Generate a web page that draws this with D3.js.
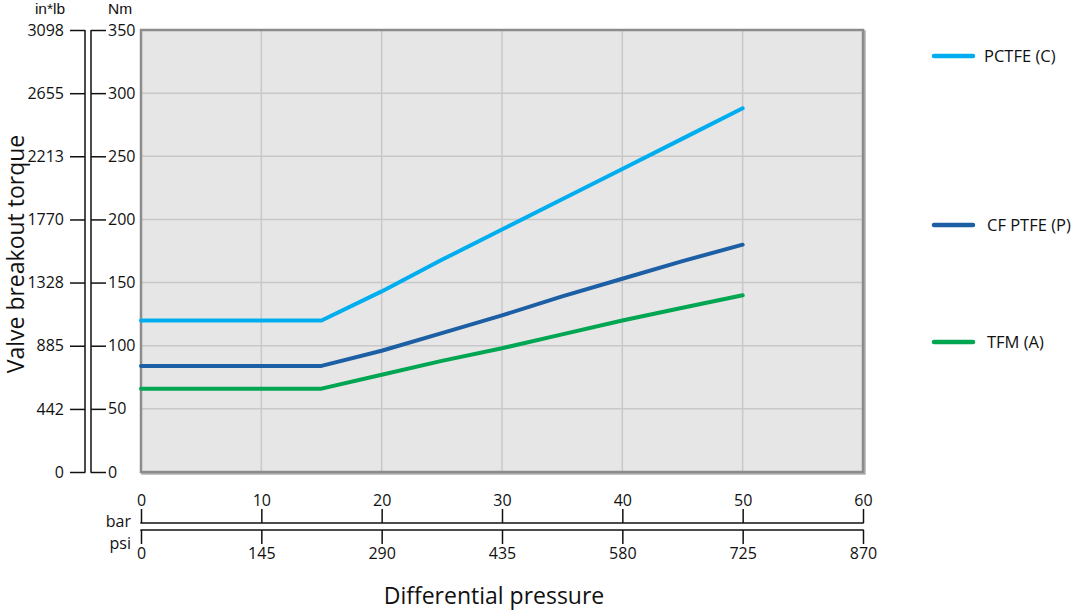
<!DOCTYPE html>
<html><head><meta charset="utf-8">
<script src="https://cdn.jsdelivr.net/npm/d3@7"></script>
<style>
body{margin:0;background:#fff;}
text{font-family:"Open Sans","Noto Sans",sans-serif;fill:#111;}
</style></head>
<body><svg id="c" width="1075" height="612"></svg>
<script>
const pressureBar = [0, 15, 20, 25, 30, 35, 40, 45, 50];
const pctfe   = [120, 120, 143, 168, 192, 216, 240, 264, 288];
const cfptfe  = [84, 84, 96, 110, 124, 139, 153, 167, 180];
const tfm     = [66, 66, 77, 88, 98, 109, 120, 130, 140];
const seriesNames = ["PCTFE (C)", "CF PTFE (P)", "TFM (A)"];
const seriesColors = ["#00aeef", "#1d5fa5", "#00a651"];
const nmTicks = [0, 50, 100, 150, 200, 250, 300, 350];
const inlbTicks = [0, 442, 885, 1328, 1770, 2213, 2655, 3098];
const barTicks = [0, 10, 20, 30, 40, 50, 60];
const psiTicks = [0, 145, 290, 435, 580, 725, 870];

const svg = d3.select("#c");
const L = 141, R = 863, T = 30, B = 472;
const x = d3.scaleLinear().domain([0, 60]).range([L, R]);
const y = d3.scaleLinear().domain([0, 350]).range([B, T]);
const yIn = d3.scaleLinear().domain([0, 3098]).range([B, T]);
const xPsi = d3.scaleLinear().domain([0, 870]).range([L, R]);
const FS = "16px";

// plot background
svg.append("rect").attr("x", L + 1.5).attr("y", T + 1.5).attr("width", R - L).attr("height", B - T)
  .attr("fill", "none").attr("stroke", "#b0b0b0").attr("stroke-width", 2.5);
svg.append("rect").attr("x", L).attr("y", T).attr("width", R - L).attr("height", B - T)
  .attr("fill", "#e6e6e6");
// grid
svg.append("g").selectAll("line").data(barTicks.slice(1, -1)).join("line")
  .attr("x1", d => x(d)).attr("x2", d => x(d)).attr("y1", T).attr("y2", B)
  .attr("stroke", "#c8c8c8").attr("stroke-width", 1.5);
svg.append("g").selectAll("line").data(nmTicks.slice(1, -1)).join("line")
  .attr("y1", d => y(d)).attr("y2", d => y(d)).attr("x1", L).attr("x2", R)
  .attr("stroke", "#c8c8c8").attr("stroke-width", 1.5);
svg.append("rect").attr("x", L).attr("y", T).attr("width", R - L).attr("height", B - T)
  .attr("fill", "none").attr("stroke", "#8c8c8c").attr("stroke-width", 2.5);

// lines
const line = d3.line().x((d, i) => x(pressureBar[i])).y(d => y(d));
[pctfe, cfptfe, tfm].forEach((s, k) => {
  svg.append("path").datum(s).attr("d", line).attr("fill", "none")
    .attr("stroke", seriesColors[k]).attr("stroke-width", 4)
    .attr("stroke-linecap", "round").attr("stroke-linejoin", "round");
});

// left axes: in*lb (ticks left) and Nm (ticks right)
const axIn = d3.axisLeft(yIn).tickValues(inlbTicks).tickSize(15).tickPadding(6).tickFormat(d3.format("d"));
const gIn = svg.append("g").attr("transform", "translate(85,0)").call(axIn);
const axNm = d3.axisRight(y).tickValues(nmTicks).tickSize(15).tickPadding(2).tickFormat(d3.format("d"));
const gNm = svg.append("g").attr("transform", "translate(91,0)").call(axNm);
[gIn, gNm].forEach(g => {
  g.select(".domain").remove();
  g.selectAll("line").attr("stroke", "#111").attr("stroke-width", 1.5);
  g.selectAll("text").style("font-size", FS).attr("fill", "#111");
});
svg.append("line").attr("x1", 85).attr("x2", 85).attr("y1", T).attr("y2", B + 0.75).attr("stroke", "#111").attr("stroke-width", 1.5);
svg.append("line").attr("x1", 91).attr("x2", 91).attr("y1", T).attr("y2", B + 0.75).attr("stroke", "#111").attr("stroke-width", 1.5);
svg.append("text").attr("x", 50).attr("y", 14).attr("text-anchor", "middle")
  .style("font-family", "'Liberation Sans',sans-serif").style("font-size", "15.5px").text("in*lb");
svg.append("text").attr("x", 120).attr("y", 14).attr("text-anchor", "middle")
  .style("font-family", "'Liberation Sans',sans-serif").style("font-size", "15.5px").text("Nm");

// bottom axes
const axBar = d3.axisTop(x).tickValues(barTicks).tickSize(14).tickPadding(3).tickFormat(d3.format("d"));
const gBar = svg.append("g").attr("transform", "translate(0,523)").call(axBar);
const axPsi = d3.axisBottom(xPsi).tickValues(psiTicks).tickSize(14).tickPadding(4).tickFormat(d3.format("d"));
const gPsi = svg.append("g").attr("transform", "translate(0,530)").call(axPsi);
[gBar, gPsi].forEach(g => {
  g.select(".domain").remove();
  g.selectAll("line").attr("stroke", "#111").attr("stroke-width", 1.5);
  g.selectAll("text").style("font-size", FS).attr("fill", "#111");
});
svg.append("line").attr("x1", L - 0.75).attr("x2", R + 0.75).attr("y1", 523).attr("y2", 523).attr("stroke", "#111").attr("stroke-width", 1.5);
svg.append("line").attr("x1", L - 0.75).attr("x2", R + 0.75).attr("y1", 530).attr("y2", 530).attr("stroke", "#111").attr("stroke-width", 1.5);
svg.append("text").attr("x", 131).attr("y", 527).attr("text-anchor", "end").style("font-size", FS).text("bar");
svg.append("text").attr("x", 131).attr("y", 549).attr("text-anchor", "end").style("font-size", FS).text("psi");

// titles
svg.append("text").attr("x", 494).attr("y", 604).attr("text-anchor", "middle").style("font-size", "23px").text("Differential pressure");
svg.append("text").attr("transform", "translate(24,254) rotate(-90)").attr("text-anchor", "middle").style("font-size", "23px").text("Valve breakout torque");

// legend
const legY = [56, 225, 342];
const legX = [984, 987, 987];
seriesNames.forEach((n, k) => {
  svg.append("line").attr("x1", 934).attr("x2", 973).attr("y1", legY[k]).attr("y2", legY[k])
    .attr("stroke", seriesColors[k]).attr("stroke-width", 4.5).attr("stroke-linecap", "round");
  svg.append("text").attr("x", legX[k]).attr("y", legY[k] + 6).style("font-size", "16.5px").text(n);
});
</script></body></html>
